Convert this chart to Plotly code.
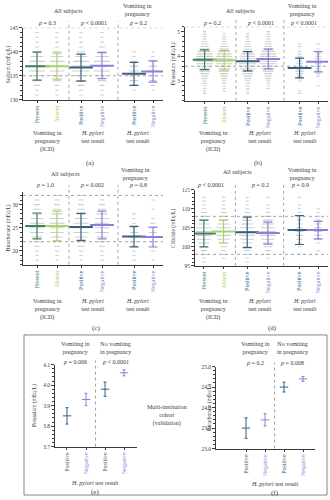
import plotly.graph_objects as go

W, H = 330, 500
SERIF = "Liberation Serif"
INK = "#3a3a3a"
DOT = "#cdcdcd"
REF = "#9a9a9a"

GREEN_DARK = "#3f7f5c"
GREEN_LIGHT = "#a6d46c"
BLUE = "#35607f"
PURPLE = "#8a80d8"

# ---------------- categories ----------------
group_labels = ["Present", "Absent", "Positive", "Negative", "Positive", "Negative"]
group_colors = [GREEN_DARK, GREEN_LIGHT, BLUE, PURPLE, BLUE, PURPLE]
group_pos = [0, 1, 2.2, 3.25, 4.85, 5.8]
sep_pos = [1.6, 4.05]

# ---------------- sodium ----------------
sodium_levels = list(range(131, 145))
sodium_counts = [
    [1, 1, 3, 6, 9, 11, 12, 11, 8, 5, 2, 1, 1, 1],
    [1, 1, 2, 5, 8, 10, 11, 10, 8, 5, 2, 1, 1, 1],
    [1, 2, 4, 7, 10, 12, 12, 11, 8, 5, 2, 1, 1, 1],
    [1, 1, 2, 5, 8, 11, 12, 11, 9, 6, 3, 1, 1, 1],
    [0, 1, 3, 5, 7, 6, 5, 3, 1, 1, 0, 0, 0, 0],
    [0, 1, 2, 4, 6, 7, 5, 3, 1, 1, 0, 0, 0, 0],
]
sodium_mean = [137.0, 137.0, 136.7, 137.1, 135.4, 135.9]
sodium_sd = [2.9, 2.7, 2.8, 2.7, 2.4, 2.2]

# ---------------- potassium ----------------
potassium_levels = [round(2.5 + 0.1 * i, 1) for i in range(26)]
potassium_counts = [
    [1, 1, 1, 1, 2, 2, 3, 4, 6, 7, 9, 10, 12, 13, 13, 12, 11, 9, 7, 5, 4, 3, 2, 1, 1, 1],
    [0, 1, 1, 1, 2, 2, 3, 4, 5, 7, 8, 10, 11, 12, 12, 11, 10, 8, 6, 5, 3, 2, 2, 1, 1, 0],
    [1, 1, 1, 2, 2, 3, 4, 5, 7, 8, 10, 11, 12, 12, 11, 10, 9, 7, 5, 4, 3, 2, 1, 1, 1, 0],
    [0, 0, 1, 1, 1, 2, 3, 4, 5, 7, 9, 10, 12, 13, 13, 12, 11, 9, 7, 5, 4, 3, 2, 1, 1, 1],
    [1, 1, 0, 0, 0, 1, 2, 3, 4, 5, 5, 5, 4, 3, 3, 2, 1, 1, 0, 1, 1, 0, 0, 0, 0, 0],
    [0, 0, 0, 1, 0, 0, 0, 1, 2, 3, 3, 4, 4, 5, 4, 3, 2, 2, 1, 0, 1, 0, 0, 0, 0, 0],
]
potassium_mean = [3.86, 3.84, 3.80, 3.89, 3.53, 3.78]
potassium_sd = [0.40, 0.40, 0.39, 0.40, 0.40, 0.41]

# ---------------- bicarbonate ----------------
bicarb_levels = list(range(17, 33))
bicarb_counts = [
    [1, 1, 1, 2, 3, 5, 7, 9, 10, 10, 8, 6, 4, 3, 2, 1],
    [0, 1, 1, 2, 3, 5, 7, 9, 10, 10, 9, 7, 5, 3, 2, 1],
    [1, 1, 1, 2, 4, 6, 8, 10, 11, 10, 8, 6, 4, 3, 2, 1],
    [0, 1, 1, 2, 3, 5, 7, 9, 10, 10, 9, 7, 5, 3, 2, 1],
    [0, 1, 1, 2, 3, 5, 6, 5, 4, 2, 1, 1, 0, 0, 0, 0],
    [0, 1, 0, 2, 3, 4, 6, 5, 4, 3, 1, 0, 1, 0, 1, 0],
]
bicarb_mean = [25.4, 25.4, 25.2, 25.6, 23.1, 23.0]
bicarb_sd = [2.8, 3.2, 2.9, 3.0, 2.2, 2.15]

# ---------------- chloride ----------------
chloride_levels = list(range(96, 114))
chloride_counts = [
    [1, 1, 2, 3, 5, 7, 9, 11, 11, 10, 8, 6, 4, 3, 2, 1, 1, 1],
    [0, 1, 1, 2, 4, 6, 8, 10, 11, 10, 8, 6, 4, 3, 2, 1, 1, 1],
    [1, 1, 2, 3, 5, 7, 9, 11, 11, 10, 8, 6, 4, 3, 2, 1, 1, 1],
    [0, 1, 2, 3, 5, 7, 9, 11, 11, 10, 8, 6, 4, 2, 1, 1, 0, 1],
    [0, 0, 1, 0, 1, 2, 3, 4, 5, 4, 3, 2, 2, 1, 1, 1, 0, 1],
    [0, 0, 0, 1, 0, 1, 2, 4, 5, 4, 3, 2, 1, 1, 1, 0, 0, 0],
]
chloride_mean = [103.5, 104.0, 103.8, 103.6, 104.4, 104.4]
chloride_sd = [3.5, 3.0, 4.0, 2.9, 3.8, 2.3]

# ---------------- validation cohort ----------------
val_labels = ["Positive", "Negative", "Positive", "Negative"]
val_colors = [BLUE, PURPLE, BLUE, PURPLE]
val_pos = [0, 1, 2, 3]
val_potassium_mean = [3.85, 3.93, 3.98, 4.06]
val_potassium_ci = [0.04, 0.03, 0.035, 0.015]
val_bicarb_mean = [23.5, 23.7, 24.5, 24.7]
val_bicarb_ci = [0.25, 0.15, 0.12, 0.06]


def xdom(l, r):
    return [l / W, r / W]


def ydom(t, b):
    return [1 - b / H, 1 - t / H]


fig = go.Figure()


def add_scatter_panel(ax, levels, counts, means, sds):
    xa = "x" if ax == 1 else f"x{ax}"
    ya = "y" if ax == 1 else f"y{ax}"
    xs, ys = [], []
    for p, row in zip(group_pos, counts):
        for lv, c in zip(levels, row):
            if c <= 0:
                continue
            hw = 0.05 + 0.032 * c
            xs += [p - hw, p + hw, None]
            ys += [lv, lv, None]
    fig.add_trace(go.Scatter(x=xs, y=ys, mode="lines", xaxis=xa, yaxis=ya,
                             line=dict(color=DOT, width=1.1), hoverinfo="skip",
                             showlegend=False))
    for p, m, s, col in zip(group_pos, means, sds, group_colors):
        fig.add_trace(go.Scatter(
            x=[p], y=[m], mode="markers", xaxis=xa, yaxis=ya, showlegend=False,
            marker=dict(symbol="line-ew", size=17, color=col,
                        line=dict(color=col, width=2)),
            error_y=dict(type="data", array=[s], color=col, thickness=1.2, width=4.5)))


def add_ci_panel(ax, means, cis):
    xa, ya = f"x{ax}", f"y{ax}"
    for p, m, c, col in zip(val_pos, means, cis, val_colors):
        fig.add_trace(go.Scatter(
            x=[p], y=[m], mode="markers", xaxis=xa, yaxis=ya, showlegend=False,
            marker=dict(symbol="line-ew", size=6, color=col,
                        line=dict(color=col, width=1)),
            error_y=dict(type="data", array=[c], color=col, thickness=1, width=1.5)))


add_scatter_panel(1, sodium_levels, sodium_counts, sodium_mean, sodium_sd)
add_scatter_panel(2, potassium_levels, potassium_counts, potassium_mean, potassium_sd)
add_scatter_panel(3, bicarb_levels, bicarb_counts, bicarb_mean, bicarb_sd)
add_scatter_panel(4, chloride_levels, chloride_counts, chloride_mean, chloride_sd)
add_ci_panel(5, val_potassium_mean, val_potassium_ci)
add_ci_panel(6, val_bicarb_mean, val_bicarb_ci)

ytickfont = dict(family=SERIF, size=5.5, color=INK)
xtickfont = dict(family=SERIF, size=6, color=INK)
common = dict(showline=True, linecolor=INK, linewidth=0.8, ticks="outside",
              tickcolor=INK, tickwidth=0.7, showgrid=False, zeroline=False,
              fixedrange=True)


def colored(labels, colors):
    return [f"<span style='color:{c}'>{t}</span>" for t, c in zip(labels, colors)]


def xaxis(dom, rng, anchor, vals, labels, colors):
    return dict(domain=dom, range=rng, anchor=anchor, tickvals=vals,
                ticktext=colored(labels, colors), tickangle=-90, ticklen=2.5,
                tickfont=xtickfont, **common)


def yaxis(dom, rng, anchor, dtick, minor, fmt=None):
    d = dict(domain=dom, range=rng, anchor=anchor, dtick=dtick, ticklen=3,
             tickfont=ytickfont,
             minor=dict(dtick=minor, ticklen=1.8, tickcolor=INK, tickwidth=0.6,
                        ticks="outside", showgrid=False), **common)
    if fmt:
        d["tickformat"] = fmt
    return d


fig.update_layout(
    width=W, height=H, margin=dict(l=0, r=0, t=0, b=0),
    paper_bgcolor="white", plot_bgcolor="white", showlegend=False,
    xaxis=xaxis(xdom(23, 163), [-0.7, 6.3], "y", group_pos, group_labels, group_colors),
    yaxis=yaxis(ydom(25, 98), [130, 145], "x", 5, 1),
    xaxis2=xaxis(xdom(185, 328), [-1.0, 6.3], "y2", group_pos, group_labels, group_colors),
    yaxis2=yaxis(ydom(24, 99), [2.2, 5.2], "x2", 1, 0.2),
    xaxis3=xaxis(xdom(23, 163), [-0.7, 6.3], "y3", group_pos, group_labels, group_colors),
    yaxis3=yaxis(ydom(191, 265), [17, 32.8], "x3", 5, 1),
    xaxis4=xaxis(xdom(195, 328), [-0.45, 6.3], "y4", group_pos, group_labels, group_colors),
    yaxis4=yaxis(ydom(189, 266), [95, 115], "x4", 5, 1),
    xaxis5=xaxis(xdom(55, 137), [-0.63, 3.68], "y5", val_pos, val_labels, val_colors),
    yaxis5=yaxis(ydom(366, 449), [3.7, 4.1], "x5", 0.1, 0.02, ".1f"),
    xaxis6=xaxis(xdom(216, 315), [-1.58, 3.63], "y6", val_pos, val_labels, val_colors),
    yaxis6=yaxis(ydom(368, 451), [23.0, 25.0], "x6", 0.5, 0.1, ".1f"),
)

# reference ranges (horizontal dotted) and group separators (vertical dotted)
ref_ranges = {1: (135, 145), 2: (3.6, 5.2), 3: (22, 32), 4: (98, 108)}
for ax, (lo, hi) in ref_ranges.items():
    xr = "x" if ax == 1 else f"x{ax}"
    yr = "y" if ax == 1 else f"y{ax}"
    for v in (lo, hi):
        fig.add_shape(type="line", xref=f"{xr} domain", yref=yr, x0=0, x1=1, y0=v, y1=v,
                      line=dict(color=REF, width=0.9, dash="dot"))
    for s in sep_pos:
        fig.add_shape(type="line", xref=xr, yref=f"{yr} domain", x0=s, x1=s, y0=0, y1=1.09,
                      line=dict(color=REF, width=0.9, dash="dot"))
for ax in (5, 6):
    fig.add_shape(type="line", xref=f"x{ax}", yref=f"y{ax} domain", x0=1.5, x1=1.5,
                  y0=0, y1=1.05, line=dict(color=REF, width=0.9, dash="dot"))

# frame around the validation cohort
fig.add_shape(type="rect", xref="paper", yref="paper",
              x0=24 / W, x1=327 / W, y0=1 - 498 / H, y1=1 - 336 / H,
              line=dict(color="#666666", width=0.8))


def note(x, y, text, size=6, angle=0, yanchor="top"):
    fig.add_annotation(x=x / W, y=1 - y / H, xref="paper", yref="paper", text=text,
                       showarrow=False, textangle=angle, xanchor="center",
                       yanchor=yanchor, font=dict(family=SERIF, size=size, color=INK))


VOMIT2 = "Vomiting in<br>pregnancy"
VOMIT3 = "Vomiting in<br>pregnancy<br>(ICD)"
HP = "<i>H. pylori</i><br>test result"

# top row headers
note(68, 3, "All subjects")
note(137, -2, VOMIT2)
note(240, 3, "All subjects")
note(302, -2, VOMIT2)
for x, t in [(47, "<i>p</i> = 0.3"), (93, "<i>p</i> &lt; 0.0001"), (138, "<i>p</i> = 0.2"),
             (212, "<i>p</i> = 0.2"), (260, "<i>p</i> &lt; 0.0001"), (303, "<i>p</i> &lt; 0.0001")]:
    note(x, 15, t)

# second row headers
note(65, 168, "All subjects")
note(135, 164, VOMIT2)
note(237, 166, "All subjects")
note(302, 164, VOMIT2)
for x, t in [(45, "<i>p</i> = 1.0"), (92, "<i>p</i> = 0.002"), (138, "<i>p</i> = 0.8"),
             (210, "<i>p</i> &lt; 0.0001"), (260, "<i>p</i> = 0.2"), (300, "<i>p</i> = 0.9")]:
    note(x, 179, t)

# group captions under axes
for y0, xs in [(127, (47, 93, 138)), (127, (213, 260, 305)),
               (297, (47, 93, 138)), (297, (213, 260, 305))]:
    note(xs[0], y0, VOMIT3)
    note(xs[1], y0, HP)
    note(xs[2], y0, HP)

# panel letters
note(90, 156, "(a)", size=7)
note(258, 156, "(b)", size=7)
note(96, 323, "(c)", size=7)
note(272, 323, "(d)", size=7)

# y-axis titles
note(8, 62, "Sodium (mEq/L)", size=5.5, angle=-90, yanchor="middle")
note(173, 62, "Potassium (mEq/L)", size=5.5, angle=-90, yanchor="middle")
note(8, 228, "Bicarbonate (mEq/L)", size=5.5, angle=-90, yanchor="middle")
note(173, 228, "Chloride (mEq/L)", size=5.5, angle=-90, yanchor="middle")
note(34, 408, "Potassium (mEq/L)", size=5.5, angle=-90, yanchor="middle")
note(209, 410, "Bicarbonate (mEq/L)", size=5.5, angle=-90, yanchor="middle")

# validation cohort headers
note(75, 340, VOMIT2)
note(115, 340, "No vomiting<br>in pregnancy")
note(75, 358, "<i>p</i> = 0.006")
note(115, 358, "<i>p</i> &lt; 0.0001")
note(255, 340, VOMIT2)
note(292, 340, "No vomiting<br>in pregnancy")
note(255, 359, "<i>p</i> = 0.2")
note(292, 359, "<i>p</i> = 0.008")
note(167, 404, "Multi-institution<br>cohort<br>(validation)")
note(95, 481, "<i>H. pylori</i> test result")
note(275, 482, "<i>H. pylori</i> test result")
note(95, 489, "(e)", size=7)
note(275, 490, "(f)", size=7)

fig.write_html("out.html")
